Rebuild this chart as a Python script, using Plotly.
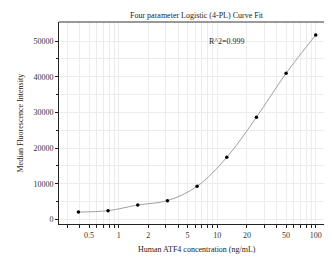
import plotly.graph_objects as go

conc = [0.39, 0.78, 1.56, 3.125, 6.25, 12.5, 25, 50, 100]
mfi = [2050, 2440, 4020, 5250, 9270, 17400, 28650, 40950, 51700]

x_label_vals = [0.5, 1, 2, 5, 10, 20, 50, 100]
x_minor_vals = [0.3, 0.4, 0.6, 0.7, 0.8, 0.9, 3, 4, 6, 7, 8, 9, 30, 40, 60, 70, 80, 90]
y_label_vals = [0, 10000, 20000, 30000, 40000, 50000]
y_minor_vals = [5000, 15000, 25000, 35000, 45000]

font = "Liberation Serif"
OFF = 8  # page body margin
W, H = 332 - OFF, 271 - OFF
L, R, T = 59 - OFF, 0, 22 - OFF
B = H - (224 - OFF)

fig = go.Figure()
fig.add_trace(go.Scatter(
    x=conc, y=mfi, mode="lines",
    line=dict(color="#a0a0a0", width=1, shape="spline", smoothing=1.0),
    hoverinfo="skip", showlegend=False))
fig.add_trace(go.Scatter(
    x=conc, y=mfi, mode="markers",
    marker=dict(color="black", size=3.5, symbol="circle"),
    showlegend=False))

def px_x(p):
    return (p - OFF - L) / (W - L - R)

def px_y(p):
    return 1 - (p - OFF - T) / (H - T - B)

fig.update_layout(
    width=W, height=H,
    margin=dict(l=L, r=R, t=T, b=B, autoexpand=False),
    paper_bgcolor="white", plot_bgcolor="white",
    font=dict(family=font, size=8, color="#333"),
    annotations=[
        dict(text="Four parameter Logistic (4-PL) Curve Fit", x=px_x(197), y=px_y(9),
             xref="paper", yref="paper", showarrow=False,
             font=dict(family=font, size=8, color="#222")),
        dict(text="R^2=0.999", x=px_x(227), y=px_y(35), xref="paper", yref="paper",
             showarrow=False, font=dict(family=font, size=8, color="#222")),
        dict(text="Human ATF4 concentration (ng/mL)", x=px_x(197), y=px_y(256),
             xref="paper", yref="paper", showarrow=False,
             font=dict(family=font, size=8, color="#222")),
        dict(text="Median Fluorescence Intensity", x=px_x(13), y=px_y(123),
             xref="paper", yref="paper", showarrow=False, textangle=-90,
             font=dict(family=font, size=8, color="#222")),
    ],
    xaxis=dict(
        type="log", range=[-0.606, 2.165], automargin=False,
        tickmode="array", tickvals=x_label_vals,
        ticktext=[str(v) for v in x_label_vals],
        ticks="outside", ticklen=3, tickwidth=1, tickcolor="#222",
        showline=True, linecolor="#222", linewidth=1, mirror=False,
        showgrid=True, gridcolor="#ececec", gridwidth=1, zeroline=False,
        minor=dict(tickmode="array", tickvals=x_minor_vals, ticks="outside",
                   ticklen=3, tickcolor="#222", showgrid=True, gridcolor="#ececec"),
        tickfont=dict(family=font, size=8, color="#333"),
    ),
    yaxis=dict(
        range=[-1300, 55340], automargin=False,
        tickmode="array", tickvals=y_label_vals,
        ticktext=[str(v) for v in y_label_vals],
        ticks="outside", ticklen=3, tickwidth=1, tickcolor="#222",
        showline=True, linecolor="#222", linewidth=1,
        showgrid=True, gridcolor="#ececec", zeroline=False,
        minor=dict(tickmode="array", tickvals=y_minor_vals,
                   ticks="outside", ticklen=2, tickcolor="#222",
                   showgrid=True, gridcolor="#ececec"),
        tickfont=dict(family=font, size=8, color="#333"),
    ),
    shapes=[dict(type="line", xref="paper", yref="paper", x0=0, x1=1, y0=1, y1=1,
                 line=dict(color="#777", width=1.5))],
)

fig.write_html("out.html")
